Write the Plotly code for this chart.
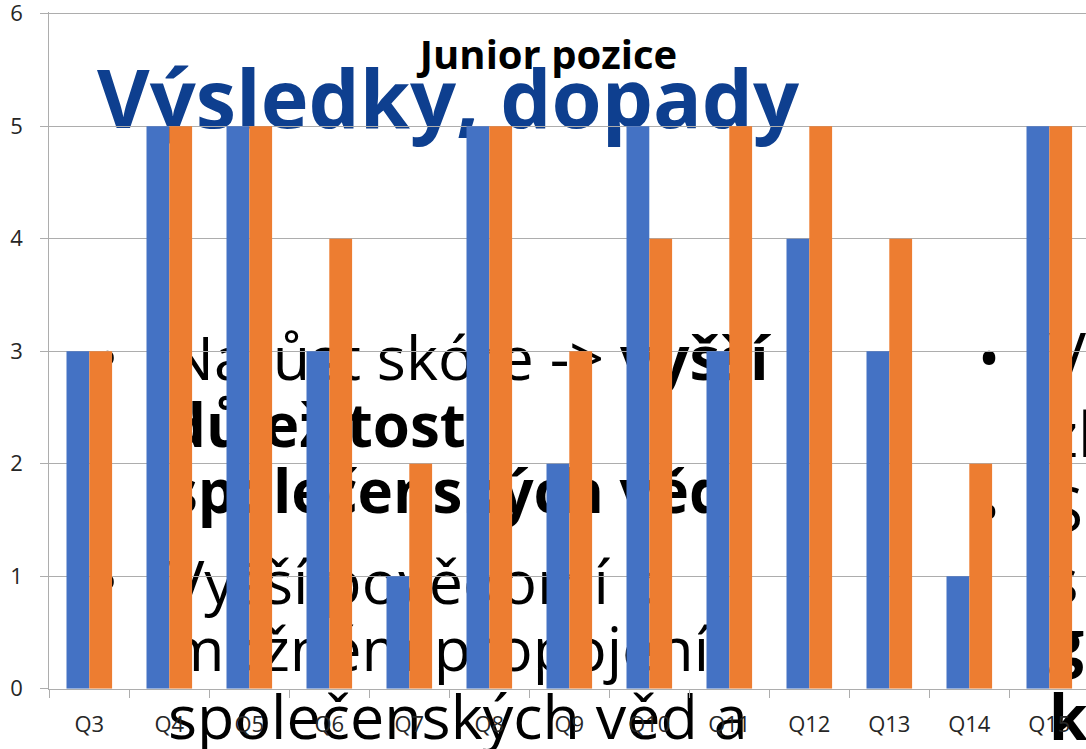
import plotly.graph_objects as go

# ---------------- data ----------------
categories = ["Q3", "Q4", "Q5", "Q6", "Q7", "Q8", "Q9", "Q10", "Q11", "Q12", "Q13", "Q14", "Q15"]
series_blue = [3, 5, 5, 3, 1, 5, 2, 5, 3, 4, 3, 1, 5]
series_orange = [3, 5, 5, 4, 2, 5, 3, 4, 5, 5, 4, 2, 5]
y_ticks = [0, 1, 2, 3, 4, 5, 6]

chart_title = "Junior pozice"
slide_heading = "Výsledky, dopady"
left_regular_lines = [
    "Nárůst skóre -> <b>vyšší</b>",
    "Vyšší povědomí o",
    "možném propojení",
    "společenských věd a",
]
left_bold_lines = [
    "<b>důležitost</b>",
    "<b>společenských věd</b>",
]
right_lines = ["V", "zl", "S", "s", "<b>g</b>", "<b>k</b>"]
bullet = "•"

# ---------------- layout constants (pixels) ----------------
W, H = 1086, 749
PLOT_LEFT, PLOT_BOTTOM = 49.3, 688.7
UNIT_PX = 112.5            # pixels per y unit
Y_TOP = 6.015              # slightly above 6 so the top gridline is kept
PLOT_TOP = PLOT_BOTTOM - Y_TOP * UNIT_PX
CAT_W = 80.0

LEFT_X = 168
LEFT_REG_BASELINES = [380, 604, 671, 739]
LEFT_BOLD_BASELINES = [447, 513]
LEFT_REG_FS, LEFT_BOLD_FS = 61, 60
LEFT_BULLETS = [(107.5, 380), (107.5, 604)]

RIGHT_X = 1049
RIGHT_BASELINES = [378, 457, 532, 603, 665, 740]
RIGHT_FS = 62
RIGHT_BULLETS = [(989, 380), (989, 534)]
BULLET_FS = 60

HEAD_X, HEAD_BASE, HEAD_FS = 97, 128, 81

FONT = "Open Sans"
GRID = "#ADADAD"
TXT = "#000000"
TICK_TXT = "#262626"

fig = go.Figure()


def mid_y(baseline, fs):
    # plotly 'middle' text: baseline sits 0.25*fs below the point
    return baseline - 0.25 * fs


def add_text(xs, baselines, texts, fs, color=TXT, pos="middle right", weight="normal"):
    fig.add_trace(go.Scatter(
        x=xs, y=[mid_y(b, fs) for b in baselines], mode="text",
        text=texts, textposition=pos,
        textfont=dict(family=FONT, size=fs, color=color, weight=weight),
        hoverinfo="skip", showlegend=False, xaxis="x", yaxis="y"))


# slide text (underneath the chart), subplot xy in pixel coordinates
add_text([HEAD_X], [HEAD_BASE], [slide_heading], HEAD_FS, color="#0E3F8F", weight="bold")
add_text([LEFT_X] * len(left_regular_lines), LEFT_REG_BASELINES, left_regular_lines, LEFT_REG_FS)
add_text([LEFT_X] * len(left_bold_lines), LEFT_BOLD_BASELINES, left_bold_lines, LEFT_BOLD_FS)
add_text([RIGHT_X] * len(right_lines), RIGHT_BASELINES, right_lines, RIGHT_FS)
bul = LEFT_BULLETS + RIGHT_BULLETS
add_text([b[0] for b in bul], [b[1] for b in bul], [bullet] * len(bul), BULLET_FS,
         pos="middle center")

# chart bars on top (subplot x2y2)
fig.add_trace(go.Bar(x=categories, y=series_blue, name="Řada 1",
                     marker=dict(color="#4472C4", line=dict(width=0)),
                     xaxis="x2", yaxis="y2", hoverinfo="skip"))
fig.add_trace(go.Bar(x=categories, y=series_orange, name="Řada 2",
                     marker=dict(color="#ED7D31", line=dict(width=0)),
                     xaxis="x2", yaxis="y2", hoverinfo="skip"))

fig.update_layout(
    width=W, height=H,
    margin=dict(l=0, r=0, t=0, b=0, autoexpand=False),
    paper_bgcolor="white", plot_bgcolor="rgba(0,0,0,0)",
    showlegend=False,
    barmode="group", bargap=0.43, bargroupgap=0,
    font=dict(family=FONT, color=TICK_TXT),
    title=dict(text="<b>" + chart_title + "</b>", x=548.5 / W, xanchor="center",
               y=1 - 55 / H, yanchor="middle", yref="paper",
               font=dict(family=FONT, size=40, color="#000000")),
    xaxis=dict(domain=[0, 1], range=[0, W], visible=False, fixedrange=True),
    yaxis=dict(domain=[0, 1], range=[H, 0], visible=False, fixedrange=True),
    xaxis2=dict(domain=[PLOT_LEFT / W, 1], anchor="y2", automargin=False,
                range=[-0.5, -0.5 + (W - PLOT_LEFT) / CAT_W],
                showline=True, linecolor=GRID, linewidth=1.3,
                ticks="outside", ticklen=8, tickcolor=GRID, tickwidth=1.3,
                tickson="boundaries", showgrid=False,
                tickfont=dict(family=FONT, size=22, color=TICK_TXT),
                ticklabelstandoff=16, fixedrange=True),
    yaxis2=dict(domain=[(H - PLOT_BOTTOM) / H, (H - PLOT_TOP) / H], anchor="x2",
                automargin=False,
                range=[0, Y_TOP], tickvals=y_ticks,
                showline=True, linecolor=GRID, linewidth=1.3,
                ticks="outside", ticklen=8, tickcolor=GRID, tickwidth=1.3,
                showgrid=True, gridcolor=GRID, gridwidth=1.3, zeroline=False,
                tickfont=dict(family=FONT, size=22, color=TICK_TXT),
                ticklabelstandoff=13, ticklabeloverflow="allow", fixedrange=True),
)

fig.write_html(
    "out.html",
    config={"displayModeBar": False},
    post_script="document.body.style.margin='0';document.body.style.overflow='hidden';",
)
